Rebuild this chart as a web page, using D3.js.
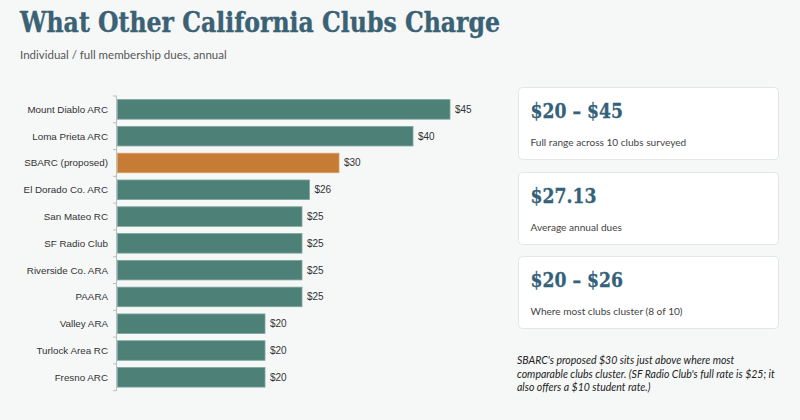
<!DOCTYPE html>
<html>
<head>
<meta charset="utf-8">
<script src="https://cdn.jsdelivr.net/npm/d3@7"></script>
<style>
  body { margin: 0; background: #f6f8f8; }
  svg { display: block; }
</style>
</head>
<body>
<div id="mychart"></div>
<script>
// chart data
var clubs = ["Mount Diablo ARC", "Loma Prieta ARC", "SBARC (proposed)", "El Dorado Co. ARC",
  "San Mateo RC", "SF Radio Club", "Riverside Co. ARA", "PAARA", "Valley ARA",
  "Turlock Area RC", "Fresno ARC"];
var dues = [45, 40, 30, 26, 25, 25, 25, 25, 20, 20, 20];
var highlight = "SBARC (proposed)";

// summary cards
var cardValues = ["$20 \u2013 $45", "$27.13", "$20 \u2013 $26"];
var cardNotes = ["Full range across 10 clubs surveyed", "Average annual dues", "Where most clubs cluster (8 of 10)"];
var footnote = ["SBARC's proposed $30 sits just above where most",
  "comparable clubs cluster. (SF Radio Club's full rate is $25; it",
  "also offers a $10 student rate.)"];

var width = 800, height = 420;

var svg = d3.select("#mychart")
  .append("svg")
    .attr("width", width)
    .attr("height", height);

svg.append("rect")
  .attr("width", width).attr("height", height)
  .attr("fill", "#f6f8f8");

// title + subtitle
svg.append("text")
  .attr("x", 20).attr("y", 32)
  .attr("font-family", "'DejaVu Serif', serif")
  .attr("font-weight", "bold")
  .attr("font-size", 28)
  .attr("fill", "#3a6274")
  .attr("stroke", "#3a6274")
  .attr("stroke-width", 0.4)
  .attr("textLength", 480)
  .attr("lengthAdjust", "spacingAndGlyphs")
  .text("What Other California Clubs Charge");

svg.append("text")
  .attr("x", 20).attr("y", 59)
  .attr("font-family", "Lato, sans-serif")
  .attr("font-size", 11.5)
  .attr("fill", "#555")
  .text("Individual / full membership dues, annual");

// scales
var x = d3.scaleLinear().domain([0, 45]).range([117, 450]);
var y = d3.scaleBand().domain(clubs).range([96, 390.7]).paddingInner(0.27).paddingOuter(0.135);

// y axis line and ticks at band edges
var axis = svg.append("g");
axis.append("line")
  .attr("x1", 116.5).attr("x2", 116.5)
  .attr("y1", 96).attr("y2", 390.7)
  .attr("stroke", "#b9bfbf");
var edges = clubs.map(function(d) { return y(d) - y.step() * y.paddingInner() / 2; });
edges.push(390.7);
edges[0] = 96;
axis.selectAll(".tk")
  .data(edges)
  .enter().append("line")
    .attr("x1", 113).attr("x2", 116.5)
    .attr("y1", function(d) { return d; })
    .attr("y2", function(d) { return d; })
    .attr("stroke", "#b9bfbf");

axis.selectAll(".lbl")
  .data(clubs)
  .enter().append("text")
    .attr("x", 108)
    .attr("y", function(d) { return y(d) + y.bandwidth() / 2; })
    .attr("dy", "0.35em")
    .attr("text-anchor", "end")
    .attr("font-family", "'Liberation Sans', Arial, sans-serif")
    .attr("font-size", 9.8)
    .attr("fill", "#333")
    .text(function(d) { return d; });

// bars
svg.selectAll(".bar")
  .data(clubs)
  .enter().append("rect")
    .attr("x", x(0) + 0.5)
    .attr("y", function(d) { return y(d); })
    .attr("width", function(d, i) { return x(dues[i]) - x(0) - 0.5; })
    .attr("height", y.bandwidth())
    .attr("fill", function(d) { return d === highlight ? "#c67c34" : "#4d8077"; })
    .attr("stroke", function(d) { return d === highlight ? "#d9a068" : "#7ea59d"; })
    .attr("stroke-width", 0.8);

svg.selectAll(".val")
  .data(clubs)
  .enter().append("text")
    .attr("x", function(d, i) { return x(dues[i]) + 5; })
    .attr("y", function(d) { return y(d) + y.bandwidth() / 2; })
    .attr("dy", "0.35em")
    .attr("font-family", "'Liberation Sans', Arial, sans-serif")
    .attr("font-size", 10)
    .attr("fill", "#333")
    .text(function(d, i) { return "$" + dues[i]; });

// cards
var cardTop = [87.5, 172.5, 256.5];
var cards = svg.selectAll(".card")
  .data(cardValues)
  .enter().append("g")
    .attr("transform", function(d, i) { return "translate(518.5," + cardTop[i] + ")"; });

cards.append("rect")
  .attr("width", 260).attr("height", 72)
  .attr("rx", 4)
  .attr("fill", "#fff")
  .attr("stroke", "#e2e6e6");

cards.append("text")
  .attr("transform", "translate(12,30) scale(0.82,1)")
  .attr("font-family", "'DejaVu Serif', serif")
  .attr("font-weight", "bold")
  .attr("font-size", 21)
  .attr("fill", "#33617a")
  .attr("stroke", "#33617a")
  .attr("stroke-width", 0.3)
  .text(function(d) { return d; });

cards.append("text")
  .attr("x", 12).attr("y", 58)
  .attr("font-family", "Lato, sans-serif")
  .attr("font-size", 10.1)
  .attr("fill", "#444")
  .text(function(d, i) { return cardNotes[i]; });

svg.selectAll(".foot")
  .data(footnote)
  .enter().append("text")
    .attr("x", 517)
    .attr("y", function(d, i) { return 364 + i * 13.5; })
    .attr("font-family", "Lato, sans-serif")
    .attr("font-style", "italic")
    .attr("font-size", 10.5)
    .attr("fill", "#222")
    .text(function(d) { return d; });
</script>
</body>
</html>
